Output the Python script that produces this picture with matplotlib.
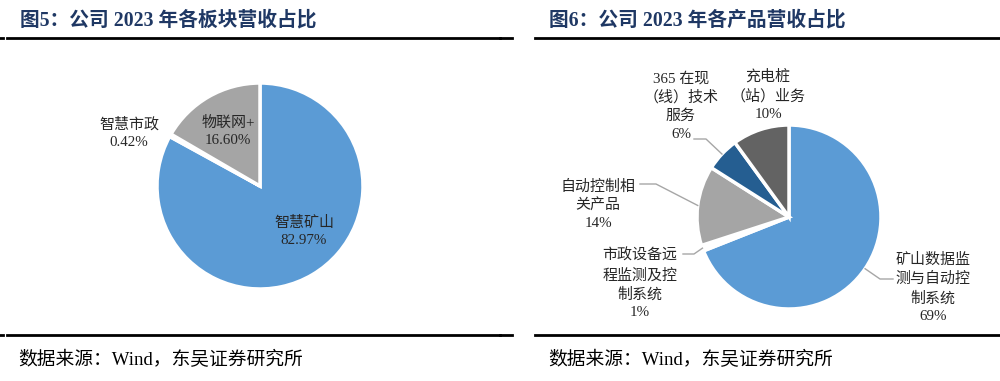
import numpy as np
import matplotlib
matplotlib.use("Agg")
import matplotlib.pyplot as plt

plt.rcParams['font.family'] = ['Liberation Serif', 'Noto Sans CJK SC', 'DejaVu Sans']

# 图5 数据
seg_labels = ['智慧矿山', '智慧市政', '物联网+']
seg_values = [82.97, 0.42, 16.60]
seg_colors = ['#5B9BD5', '#FFFFFF', '#A5A5A5']

# 图6 数据
prod_labels = ['矿山数据监\n测与自动控\n制系统', '市政设备远\n程监测及控\n制系统',
               '自动控制相\n关产品', '365 在现\n（线）技术\n服务', '充电桩\n（站）业务']
prod_values = [69, 1, 14, 6, 10]
prod_colors = ['#5B9BD5', '#FFFFFF', '#A5A5A5', '#255E91', '#636363']

W, H = 1000, 381
fig = plt.figure(figsize=(10, 3.81), dpi=100)
ax = fig.add_axes([0, 0, 1, 1])

def Y(y):
    # 图片坐标 -> 坐标轴坐标
    return H - y

# 左饼图
c1 = (260, Y(186))
r1 = 103
ax.pie(seg_values, colors=seg_colors, startangle=90, counterclock=False,
       center=c1, radius=r1,
       wedgeprops=dict(edgecolor='white', linewidth=2.5))

# 右饼图
c2 = (789, Y(217))
r2 = 92
ax.pie(prod_values, colors=prod_colors, startangle=90, counterclock=False,
       center=c2, radius=r2,
       wedgeprops=dict(edgecolor='white', linewidth=2.5))

ax.set_xlim(0, W)
ax.set_ylim(0, H)
ax.set_aspect('auto')
ax.axis('off')

txt_color = '#262626'
lead_color = '#A6A6A6'

# 左图标签
left_pos = [(304, 231), (129, 133), (228, 131)]
for lab, v, (x, y) in zip(seg_labels, seg_values, left_pos):
    ax.text(x, Y(y), f'{lab}\n{v:.2f}%', ha='center', va='center',
            fontsize=10.8, color=txt_color, linespacing=1.4)

# 右图标签
right_pos = [(933, 288), (640, 284), (598, 205), (681, 106), (768, 95)]
right_line = [[(893, 279), (880, 279)], [(683, 254), (694, 254)],
              [(640, 184), (656, 184)], [(694, 139), (706, 139)], None]
cum = np.cumsum([0] + prod_values)
tot = cum[-1]
for i, (lab, v, (x, y)) in enumerate(zip(prod_labels, prod_values, right_pos)):
    ax.text(x, Y(y), f'{lab}\n{v}%', ha='center', va='center',
            fontsize=10.8, color=txt_color, linespacing=1.45)
    if right_line[i] is not None:
        mid = np.deg2rad(90 - 360 * (cum[i] + cum[i + 1]) / 2 / tot)
        ex = c2[0] + r2 * np.cos(mid)
        ey = c2[1] + r2 * np.sin(mid)
        (x0, y0), (x1, y1) = right_line[i]
        ax.plot([x0, x1, ex], [Y(y0), Y(y1), ey], color=lead_color, lw=1)

# 标题
title_color = '#1F3864'
ax.text(20, Y(20), '图5：公司 2023 年各板块营收占比', ha='left', va='center',
        fontsize=14.2, fontweight='bold', color=title_color)
ax.text(549, Y(20), '图6：公司 2023 年各产品营收占比', ha='left', va='center',
        fontsize=14.2, fontweight='bold', color=title_color)

# 分隔线
for yy in (38, 335):
    ax.plot([0, 3], [Y(yy), Y(yy)], color='black', lw=2)
    ax.plot([7, 500], [Y(yy), Y(yy)], color='black', lw=2)
    ax.plot([500, 512], [Y(yy), Y(yy)], color='black', lw=2)
    ax.plot([535, 1000], [Y(yy), Y(yy)], color='black', lw=2)

# 数据来源
ax.text(18, Y(360), '数据来源：Wind，东吴证券研究所', ha='left', va='center',
        fontsize=13.5, color='black')
ax.text(548, Y(360), '数据来源：Wind，东吴证券研究所', ha='left', va='center',
        fontsize=13.5, color='black')

fig.savefig('out.png', dpi=100)
